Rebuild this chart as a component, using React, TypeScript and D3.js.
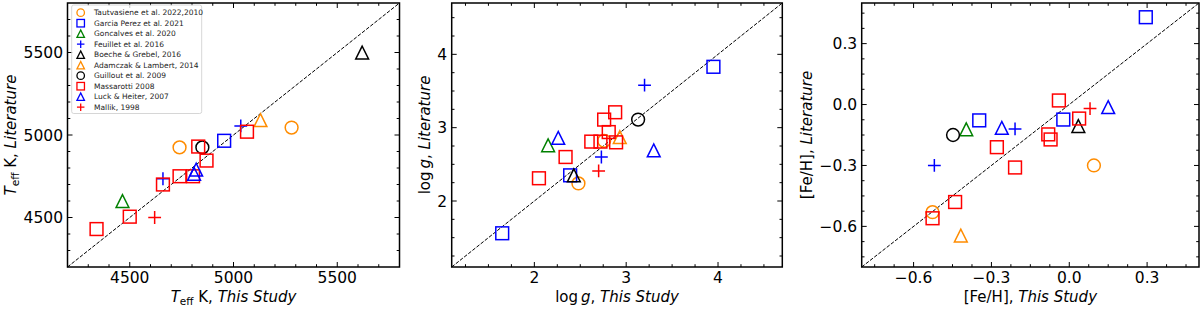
import * as d3 from "d3";

type Pt = [number, number];

// legend entries, in plotting order
const sourceLabels = [
  "Tautvasiene et al. 2022,2010",
  "Garcia Perez et al.  2021",
  "Goncalves et al.  2020",
  "Feuillet et al. 2016",
  "Boeche & Grebel, 2016",
  "Adamczak & Lambert, 2014",
  "Guillout et al. 2009",
  "Massarotti 2008",
  "Luck & Heiter, 2007",
  "Mallik, 1998",
];

// [this study, literature] per source (same order as the labels)
const teffPoints: Pt[][] = [
  [[4740, 4925], [5280, 5045]],
  [[4955, 4965]],
  [[4465, 4600]],
  [[4660, 4735], [5035, 5055]],
  [[5620, 5500]],
  [[5130, 5090]],
  [[4850, 4925]],
  [[4340, 4430], [4500, 4505], [4660, 4700], [4740, 4750], [4805, 4750], [4830, 4930], [4870, 4845], [5065, 5020]],
  [[4820, 4790], [4810, 4765]],
  [[4620, 4500]],
];

const loggPoints: Pt[][] = [
  [[2.48, 2.24], [2.76, 2.82]],
  [[1.65, 1.56], [2.39, 2.35], [3.95, 3.83]],
  [[2.15, 2.76]],
  [[2.73, 2.6], [3.2, 3.58]],
  [[2.43, 2.35]],
  [[2.93, 2.87]],
  [[3.13, 3.11]],
  [[2.05, 2.31], [2.34, 2.6], [2.62, 2.81], [2.72, 2.81], [2.89, 2.8], [2.81, 2.94], [2.76, 3.11], [2.88, 3.21]],
  [[2.26, 2.86], [3.3, 2.69]],
  [[2.7, 2.41]],
];

const fehPoints: Pt[][] = [
  [[0.095, -0.3], [-0.527, -0.53]],
  [[0.295, 0.43], [-0.023, -0.074], [-0.347, -0.078]],
  [[-0.397, -0.122]],
  [[-0.209, -0.12], [-0.52, -0.3]],
  [[0.035, -0.106]],
  [[-0.418, -0.645]],
  [[-0.448, -0.15]],
  [[-0.04, 0.02], [0.038, -0.069], [-0.081, -0.147], [-0.072, -0.172], [-0.209, -0.31], [-0.279, -0.21], [-0.44, -0.48], [-0.527, -0.56]],
  [[0.15, -0.013], [-0.26, -0.115]],
  [[0.08, -0.02]],
];

const teffTicks = [4500, 5000, 5500];
const loggTicks = [2, 3, 4];
const fehTicks = [-0.6, -0.3, 0, 0.3];

const ORANGE = "darkorange";
const markerStyles: { shape: string; color: string }[] = [
  { shape: "circle", color: ORANGE },
  { shape: "square", color: "blue" },
  { shape: "triangle", color: "green" },
  { shape: "plus", color: "blue" },
  { shape: "triangle", color: "black" },
  { shape: "triangle", color: ORANGE },
  { shape: "circle", color: "black" },
  { shape: "square", color: "red" },
  { shape: "triangle", color: "blue" },
  { shape: "plus", color: "red" },
];

const FONT = "DejaVu Sans, sans-serif";
const TOP = 3;
const BOTTOM = 267;

function Marker({ shape, color, x, y, s, sw }: { shape: string; color: string; x: number; y: number; s: number; sw: number }) {
  const h = s / 2;
  const common = { fill: "none", stroke: color, strokeWidth: sw };
  if (shape === "circle") return <circle cx={x} cy={y} r={h} {...common} />;
  if (shape === "square") return <rect x={x - h} y={y - h} width={s} height={s} {...common} />;
  if (shape === "triangle")
    return <path d={`M${x},${y - h}L${x - h},${y + h}L${x + h},${y + h}Z`} {...common} strokeLinejoin="miter" />;
  return <path d={`M${x - h},${y}H${x + h}M${x},${y - h}V${y + h}`} {...common} />;
}

function minorTicks(domain: number[], step: number, majors: number[]) {
  const out: number[] = [];
  const k0 = Math.ceil(domain[0] / step - 1e-9);
  const k1 = Math.floor(domain[1] / step + 1e-9);
  for (let k = k0; k <= k1; k++) {
    const v = k * step;
    if (majors.some((m) => Math.abs(m - v) < step * 0.01)) continue;
    if (Math.abs(v - domain[0]) < step * 0.01 || Math.abs(v - domain[1]) < step * 0.01) continue;
    out.push(v);
  }
  return out;
}

interface PanelProps {
  left: number;
  right: number;
  domain: [number, number];
  ticks: number[];
  minor: number;
  fmt: (v: number) => string;
  data: Pt[][];
  xLabel: React.ReactNode;
  yLabel: React.ReactNode;
  yLabelX: number;
  legend?: boolean;
}

function Panel({ left, right, domain, ticks, minor, fmt, data, xLabel, yLabel, yLabelX, legend }: PanelProps) {
  const x = d3.scaleLinear().domain(domain).range([left, right]);
  const y = d3.scaleLinear().domain(domain).range([BOTTOM, TOP]);
  const minors = minorTicks(domain, minor, ticks);
  const major = 5;
  const small = 2.8;
  const cy = (TOP + BOTTOM) / 2;
  return (
    <g>
      {/* 1:1 line */}
      <line
        x1={x(domain[0])}
        y1={y(domain[0])}
        x2={x(domain[1])}
        y2={y(domain[1])}
        stroke="black"
        strokeWidth={1}
        strokeDasharray="3.7,1.6"
      />
      {data.map((pts, i) =>
        pts.map((p, j) => (
          <Marker key={`${i}-${j}`} {...markerStyles[i]} x={x(p[0])} y={y(p[1])} s={12.8} sw={1.5} />
        ))
      )}
      {/* ticks, pointing inwards on all sides */}
      <g stroke="black" strokeWidth={1}>
        {ticks.map((t) => (
          <g key={`M${t}`}>
            <line x1={x(t)} x2={x(t)} y1={BOTTOM} y2={BOTTOM - major} />
            <line x1={x(t)} x2={x(t)} y1={TOP} y2={TOP + major} />
            <line y1={y(t)} y2={y(t)} x1={left} x2={left + major} />
            <line y1={y(t)} y2={y(t)} x1={right} x2={right - major} />
          </g>
        ))}
        {minors.map((t) => (
          <g key={`m${t}`}>
            <line x1={x(t)} x2={x(t)} y1={BOTTOM} y2={BOTTOM - small} />
            <line x1={x(t)} x2={x(t)} y1={TOP} y2={TOP + small} />
            <line y1={y(t)} y2={y(t)} x1={left} x2={left + small} />
            <line y1={y(t)} y2={y(t)} x1={right} x2={right - small} />
          </g>
        ))}
      </g>
      <rect x={left} y={TOP} width={right - left} height={BOTTOM - TOP} fill="none" stroke="black" strokeWidth={1.5} />
      <g fontFamily={FONT} fontSize={15.5} fill="black">
        {ticks.map((t) => (
          <text key={`xl${t}`} x={x(t)} y={BOTTOM + 15.5} textAnchor="middle">
            {fmt(t)}
          </text>
        ))}
        {ticks.map((t) => (
          <text key={`yl${t}`} x={left - 4.5} y={y(t)} dy="0.36em" textAnchor="end">
            {fmt(t)}
          </text>
        ))}
      </g>
      <text x={(left + right) / 2} y={302} textAnchor="middle" fontFamily={FONT} fontSize={15}>
        {xLabel}
      </text>
      <text
        transform={`translate(${yLabelX},${cy}) rotate(-90)`}
        textAnchor="middle"
        fontFamily={FONT}
        fontSize={15}
      >
        {yLabel}
      </text>
      {legend && <Legend left={left + 4.2} top={TOP + 2} />}
    </g>
  );
}

function Legend({ left, top }: { left: number; top: number }) {
  const rowH = 10.5;
  return (
    <g>
      <rect
        x={left}
        y={top}
        width={130}
        height={108.5}
        rx={2}
        fill="white"
        fillOpacity={0.8}
        stroke="#cccccc"
        strokeWidth={0.8}
      />
      {sourceLabels.map((label, i) => {
        const yy = top + 7.7 + i * rowH;
        return (
          <g key={label}>
            <Marker {...markerStyles[i]} x={left + 9} y={yy} s={7.5} sw={1.3} />
            <text x={left + 22.3} y={yy} dy="0.35em" fontFamily={FONT} fontSize={7.5} fill="#222">
              {label}
            </text>
          </g>
        );
      })}
    </g>
  );
}

const teffLabel = (tail: string) => (
  <>
    <tspan fontStyle="italic">T</tspan>
    <tspan fontSize={10.5} dy={3}>eff</tspan>
    <tspan dy={-3}> K, </tspan>
    <tspan fontStyle="italic">{tail}</tspan>
  </>
);

const loggLabel = (tail: string) => (
  <>
    <tspan>log</tspan>
    <tspan fontStyle="italic">{"\u2009g"}</tspan>
    <tspan>, </tspan>
    <tspan fontStyle="italic">{tail}</tspan>
  </>
);

const fehLabel = (tail: string) => (
  <>
    <tspan>[Fe/H], </tspan>
    <tspan fontStyle="italic">{tail}</tspan>
  </>
);

export default function App() {
  const f1 = d3.format(".1f");
  return (
    <svg
      width={1200}
      height={309}
      viewBox="0 0 1200 309"
      style={{ position: "absolute", left: 0, top: 0, background: "white" }}
    >
      <Panel
        left={67.5}
        right={399.5}
        domain={[4200, 5800]}
        ticks={teffTicks}
        minor={100}
        fmt={(v) => String(v)}
        data={teffPoints}
        xLabel={teffLabel("This Study")}
        yLabel={teffLabel("Literature")}
        yLabelX={15.5}
        legend
      />
      <Panel
        left={451.7}
        right={782.3}
        domain={[1.1, 4.7]}
        ticks={loggTicks}
        minor={0.25}
        fmt={(v) => String(v)}
        data={loggPoints}
        xLabel={loggLabel("This Study")}
        yLabel={loggLabel("Literature")}
        yLabelX={429.5}
      />
      <Panel
        left={861.7}
        right={1199}
        domain={[-0.8, 0.5]}
        ticks={fehTicks}
        minor={0.075}
        fmt={(v) => f1(v)}
        data={fehPoints}
        xLabel={fehLabel("This Study")}
        yLabel={fehLabel("Literature")}
        yLabelX={812}
      />
    </svg>
  );
}
